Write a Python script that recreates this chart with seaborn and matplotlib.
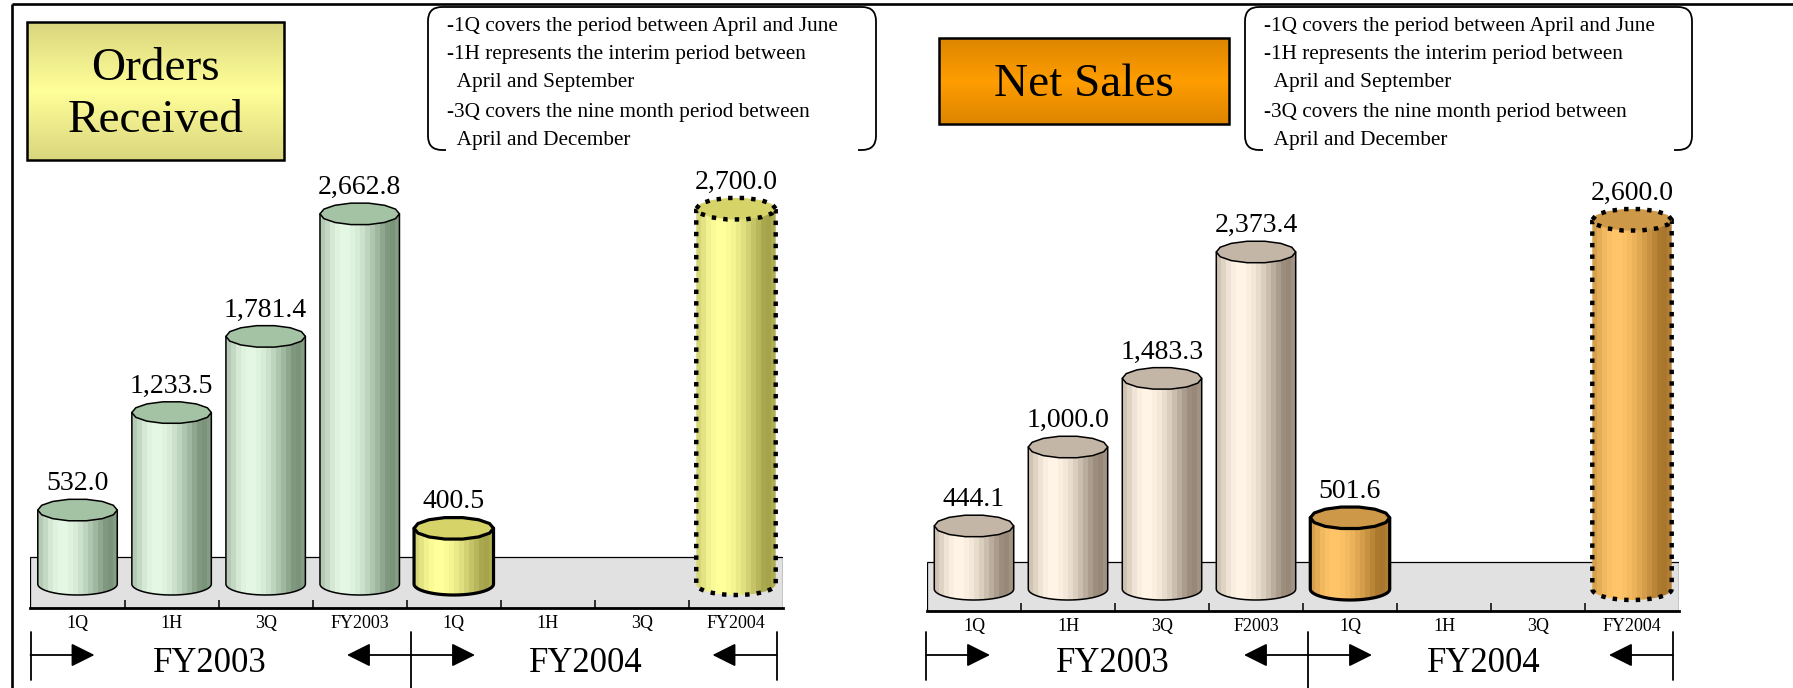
import numpy as np
import pandas as pd
import matplotlib
matplotlib.use("Agg")
import matplotlib.pyplot as plt
import matplotlib.colors as mcolors
import seaborn as sns
from matplotlib.patches import Polygon, Rectangle, PathPatch
from matplotlib.path import Path

# ---------------------------------------------------------------- data
order_periods = ["1Q", "1H", "3Q", "FY2003", "1Q", "1H", "3Q", "FY2004"]
sales_periods = ["1Q", "1H", "3Q", "F2003", "1Q", "1H", "3Q", "FY2004"]
fiscal_years = ["FY2003", "FY2004"]
orders_received = [532.0, 1233.5, 1781.4, 2662.8, 400.5, np.nan, np.nan, 2700.0]
net_sales = [444.1, 1000.0, 1483.3, 2373.4, 501.6, np.nan, np.nan, 2600.0]
note_lines = [
    "-1Q covers the period between April and June",
    "-1H represents the interim period between",
    "  April and September",
    "-3Q covers the nine month period between",
    "  April and December",
]

# ---------------------------------------------------------------- styling
sns.set_theme(style="white")
plt.rcParams["font.family"] = ["Liberation Serif", "DejaVu Serif"]
plt.rcParams.update({"text.color": "black", "xtick.color": "black",
                     "axes.labelcolor": "black"})

W, H = 1793, 688
fig = plt.figure(figsize=(W / 100, H / 100), dpi=100, facecolor="white")

# shade of each vertical facet: 0 = highlight, 1 = shadow
FACET_SHADE = [0.45, 0.3, 0.15, 0.05, 0.0, 0.0, 0.05, 0.12, 0.22,
               0.35, 0.5, 0.65, 0.8, 0.95, 1.0, 0.9]

GREEN = ("#e4f7e4", "#7a947a", "#a4c2a4")
YELLOW = ("#ffff9c", "#a6a44a", "#d6d468")
BEIGE = ("#fff4e6", "#978878", "#c4b6a6")
ORANGE = ("#ffc468", "#a8762c", "#cd9848")

EDGE = {"plain": (1.1, "solid"), "bold": (2.3, "solid"),
        "dotted": (3.2, (0, (1.0, 1.6)))}
bar_styles = ["plain"] * 4 + ["bold", "plain", "plain", "dotted"]


def cylinder(ax, x0, w, h, ry, colors, style, z=2):
    hi, sh, cap = colors
    lw, ls = EDGE[style]
    xc, rx = x0 + w / 2, w / 2
    t = np.linspace(np.pi, 2 * np.pi, 48)
    verts = [(x0, h)] + list(zip(xc + rx * np.cos(t), ry * np.sin(t))) + [(x0 + w, h)]
    body = Polygon(verts, closed=True, fc="none", ec="black", lw=lw, ls=ls,
                   zorder=z + 0.1, joinstyle="round")
    ax.add_patch(body)
    hi = np.array(mcolors.to_rgb(hi))
    sh = np.array(mcolors.to_rgb(sh))
    cols = np.array([hi * (1 - s) + sh * s for s in FACET_SHADE])[None]
    im = ax.imshow(cols, extent=[x0, x0 + w, -ry, h + ry], aspect="auto",
                   interpolation="nearest", zorder=z)
    im.set_clip_path(body)
    phi = np.linspace(0, 2 * np.pi, 15)[:-1]
    capv = list(zip(xc + rx * np.cos(phi), h + ry * np.sin(phi)))
    ax.add_patch(Polygon(capv, closed=True, fc=cap, ec="black", lw=lw, ls=ls,
                         zorder=z + 0.2, joinstyle="round"))


def draw_panel(values, labels, palette, x0, x1, base, front, back, top, scale):
    ax = fig.add_axes([x0 / W, (H - front) / H, (x1 - x0) / W, (front - top) / H])
    ax.patch.set_visible(False)
    ymin = -(front - base) / scale
    ymax = (base - top) / scale
    keys = [str(i) for i in range(len(values))]
    df = pd.DataFrame({"slot": keys, "value": values}).dropna()
    sns.barplot(data=df, x="slot", y="value", order=keys, width=0.845,
                color="white", errorbar=None, ax=ax)
    ry = 11 / scale
    container = ax.containers[0]
    for p in container.patches:
        slot = int(round(p.get_x() + p.get_width() / 2))
        cylinder(ax, p.get_x(), p.get_width(), p.get_height(), ry,
                 palette[slot], bar_styles[slot])
        p.set_visible(False)
    ax.bar_label(container, fmt="{:,.1f}", padding=10, fontsize=20, zorder=6)

    back_y = (base - back) / scale
    ax.add_patch(Rectangle((-0.5, ymin), len(values), back_y - ymin,
                           fc="#e1e1e1", ec="black", lw=0.9, zorder=0.5))
    ax.set_xlim(-0.5, len(values) - 0.5)
    ax.set_ylim(ymin, ymax)
    ax.set_xticks(range(len(values)), labels)
    ax.set_xticks(np.arange(0.5, len(values) - 1, 1), minor=True)
    ax.tick_params(axis="x", which="major", length=0, pad=5, labelsize=13)
    ax.tick_params(axis="x", which="minor", direction="in", length=6,
                   width=1.1, color="black", bottom=True)
    ax.set_yticks([])
    ax.set_xlabel("")
    ax.set_ylabel("")
    for s in ("top", "left", "right"):
        ax.spines[s].set_visible(False)
    ax.spines["bottom"].set_linewidth(2)
    ax.spines["bottom"].set_color("black")
    ax.spines["bottom"].set_zorder(3)
    return ax


draw_panel(orders_received, order_periods, [GREEN] * 4 + [YELLOW] * 4,
           30.5, 783, 584, 608, 557, 160, 0.139)
draw_panel(net_sales, sales_periods, [BEIGE] * 4 + [ORANGE] * 4,
           927, 1679, 589, 611, 561.5, 160, 0.142)

# ---------------------------------------------------------------- decorations
ov = fig.add_axes([0, 0, 1, 1])
ov.set_zorder(5)
ov.patch.set_visible(False)
ov.axis("off")

# outer frame
ov.plot([11.5, W], [3.5, 3.5], color="black", lw=1.9, solid_capstyle="butt")
ov.plot([11.5, 11.5], [3.5, H], color="black", lw=1.9, solid_capstyle="butt")


def title_box(x0, x1, y0, y1, edge_c, mid_c, text, size):
    e = np.array(mcolors.to_rgb(edge_c))
    m = np.array(mcolors.to_rgb(mid_c))
    s = np.abs(np.linspace(-1, 1, 64))[:, None]
    grad = (m * (1 - s) + e * s)[:, None, :]
    ov.imshow(grad, extent=(x0, x1, y1, y0), aspect="auto",
              interpolation="bilinear", zorder=1)
    ov.add_patch(Rectangle((x0, y0), x1 - x0, y1 - y0, fill=False,
                           ec="black", lw=1.8, zorder=2))
    ov.text((x0 + x1) / 2, (y0 + y1) / 2 + 4, text, ha="center", va="center",
            fontsize=size, linespacing=1.3, zorder=3)


title_box(27, 284, 22, 160, "#dad67e", "#ffff99", "Orders\nReceived", 34)
title_box(939, 1229, 38, 124, "#dd8600", "#ff9d00", "Net Sales", 34)


def note_box(x0, x1, y0, y1, r=14, stub=18):
    verts = [(x0 + stub, y1), (x0 + r, y1), (x0, y1), (x0, y1 - r),
             (x0, y0 + r), (x0, y0), (x0 + r, y0),
             (x1 - r, y0), (x1, y0), (x1, y0 + r),
             (x1, y1 - r), (x1, y1), (x1 - r, y1), (x1 - stub, y1)]
    codes = [Path.MOVETO, Path.LINETO, Path.CURVE3, Path.CURVE3,
             Path.LINETO, Path.CURVE3, Path.CURVE3,
             Path.LINETO, Path.CURVE3, Path.CURVE3,
             Path.LINETO, Path.CURVE3, Path.CURVE3, Path.LINETO]
    ov.add_patch(PathPatch(Path(verts, codes), fill=False, ec="black", lw=1.3))
    for line, y in zip(note_lines, [27, 55, 83, 112, 140]):
        ov.text(x0 + 19, y, line, fontsize=15.3, va="center", ha="left")


note_box(428, 876, 7, 150)
note_box(1245, 1692, 7, 150)


def period_arrows(xl, xm, xr, fy_centers):
    y = 655
    for x in (xl, xr):
        ov.plot([x, x], [632, 680], color="black", lw=1.3)
    ov.plot([xm, xm], [632, H], color="black", lw=1.3)
    style = "-|>,head_length=1.0,head_width=0.5"
    for tail, head in ((xl, xl + 64), (xm, xm - 64), (xm, xm + 64), (xr, xr - 64)):
        ov.annotate("", xy=(head, y), xytext=(tail, y),
                    arrowprops=dict(arrowstyle=style, mutation_scale=14.4,
                                    lw=1.3, color="black",
                                    shrinkA=0, shrinkB=0))
    for label, xc in zip(fiscal_years, fy_centers):
        ov.text(xc, 663, label, ha="center", va="center", fontsize=25)


period_arrows(30.5, 411, 776.5, [210, 586])
period_arrows(926, 1308, 1673, [1113, 1484])

ov.set_xlim(0, W)
ov.set_ylim(H, 0)

fig.savefig("out.png", dpi=100, facecolor="white")
